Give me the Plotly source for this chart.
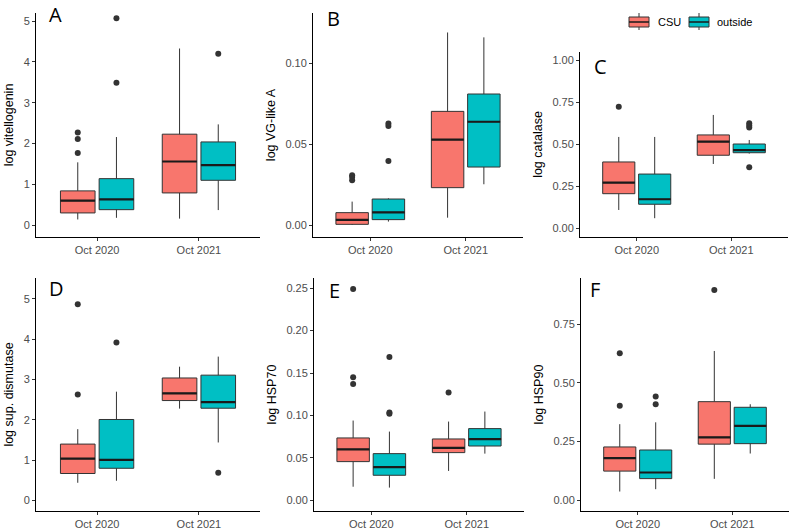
import plotly.graph_objs as go

# x categories
groups = ["Oct 2020", "Oct 2021"]
series = ["CSU", "outside"]

# box stats per year: [lower whisker, q1, median, q3, upper whisker]
vtg_csu = [[0.14, 0.30, 0.60, 0.84, 1.54], [0.16, 0.79, 1.56, 2.23, 4.33]]
vtg_out = [[0.18, 0.38, 0.63, 1.14, 2.16], [0.37, 1.10, 1.47, 2.04, 2.47]]
vtg_csu_outl = [[1.77, 2.11, 2.27], []]
vtg_out_outl = [[3.49, 5.07], [4.20]]

vgl_csu = [[0.0004, 0.0008, 0.0035, 0.0080, 0.0148], [0.0049, 0.0234, 0.0530, 0.0704, 0.1190]]
vgl_out = [[0.0025, 0.0037, 0.0082, 0.0164, 0.0168], [0.0255, 0.0361, 0.0640, 0.0811, 0.1160]]
vgl_csu_outl = [[0.028, 0.030, 0.031], []]
vgl_out_outl = [[0.0398, 0.0614, 0.0630], []]

cat_csu = [[0.109, 0.206, 0.272, 0.395, 0.544], [0.383, 0.435, 0.516, 0.556, 0.675]]
cat_out = [[0.060, 0.143, 0.173, 0.323, 0.544], [0.445, 0.450, 0.466, 0.502, 0.526]]
cat_csu_outl = [[0.724], []]
cat_out_outl = [[], [0.363, 0.600, 0.612, 0.625]]

sod_csu = [[0.44, 0.67, 1.04, 1.40, 1.77], [2.28, 2.48, 2.66, 3.04, 3.32]]
sod_out = [[0.49, 0.80, 1.01, 2.01, 2.70], [1.44, 2.29, 2.44, 3.11, 3.57]]
sod_csu_outl = [[2.63, 4.87], []]
sod_out_outl = [[3.92], [0.69]]

hsp70_csu = [[0.016, 0.0456, 0.060, 0.0735, 0.094], [0.0346, 0.0562, 0.0617, 0.0723, 0.0928]]
hsp70_out = [[0.015, 0.0295, 0.039, 0.055, 0.081], [0.055, 0.064, 0.072, 0.0845, 0.1046]]
hsp70_csu_outl = [[0.137, 0.145, 0.249], [0.127]]
hsp70_out_outl = [[0.102, 0.1035, 0.169], []]

hsp90_csu = [[0.037, 0.124, 0.179, 0.227, 0.324], [0.091, 0.239, 0.268, 0.420, 0.636]]
hsp90_out = [[0.047, 0.092, 0.118, 0.214, 0.332], [0.199, 0.241, 0.317, 0.396, 0.409]]
hsp90_csu_outl = [[0.403, 0.626], [0.896]]
hsp90_out_outl = [[0.409, 0.442], []]

int_ticks = [0, 1, 2, 3, 4, 5]
panels = [
    ("A", "log vitellogenin", vtg_csu, vtg_out, vtg_csu_outl, vtg_out_outl, int_ticks, "%.0f"),
    ("B", "log VG-like A", vgl_csu, vgl_out, vgl_csu_outl, vgl_out_outl, [0, 0.05, 0.10], "%.2f"),
    ("C", "log catalase", cat_csu, cat_out, cat_csu_outl, cat_out_outl, [0, 0.25, 0.5, 0.75, 1.0], "%.2f"),
    ("D", "log sup. dismutase", sod_csu, sod_out, sod_csu_outl, sod_out_outl, int_ticks, "%.0f"),
    ("E", "log HSP70", hsp70_csu, hsp70_out, hsp70_csu_outl, hsp70_out_outl, [0, 0.05, 0.10, 0.15, 0.20, 0.25], "%.2f"),
    ("F", "log HSP90", hsp90_csu, hsp90_out, hsp90_csu_outl, hsp90_out_outl, [0, 0.25, 0.5, 0.75], "%.2f"),
]

W, H = 793, 531
# pixel boxes of each plot area: left, right, top, bottom
areas = [(36, 260, 13, 237), (313, 523, 13, 237), (580, 788, 52, 237),
         (36, 260, 278, 511), (314, 524, 278, 511), (581, 789, 278, 511)]
yranges = [[-0.29, 5.2], [-0.007, 0.131], [-0.052, 1.05],
           [-0.26, 5.52], [-0.0126, 0.262], [-0.046, 0.947]]
letter_pos = [(55, 15), (333, 18), (600, 67), (56, 288), (334, 290), (595, 289)]


def px(x):
    return x / W


def py(y):
    return 1 - y / H


colors = {"CSU": "#F8766D", "outside": "#00BFC4"}
offset = 0.19
bw = 0.34
xpos = [1, 2]

fig = go.Figure()
layout = dict(width=W, height=H, margin=dict(l=0, r=0, t=0, b=0),
              plot_bgcolor="white", paper_bgcolor="white",
              font=dict(family="Liberation Sans, Arial", color="#4d4d4d"),
              boxmode="overlay", showlegend=False, annotations=[], shapes=[])

for i, (letter, ytitle, csu, out, csu_o, out_o, tv, fmt) in enumerate(panels):
    n = i + 1
    xa = "x" if n == 1 else "x%d" % n
    ya = "y" if n == 1 else "y%d" % n
    for name, stats, outl, sign in [("CSU", csu, csu_o, -1), ("outside", out, out_o, 1)]:
        centers = [p + sign * offset for p in xpos]
        fig.add_trace(go.Box(
            x=centers,
            lowerfence=[s[0] for s in stats],
            q1=[s[1] for s in stats],
            median=[s[2] for s in stats],
            q3=[s[3] for s in stats],
            upperfence=[s[4] for s in stats],
            width=bw, whiskerwidth=0,
            fillcolor=colors[name],
            line=dict(color="#333333", width=1),
            name=name, xaxis=xa, yaxis=ya, hoverinfo="skip"))
        # thicker median line like ggplot
        mx, my = [], []
        for c, s in zip(centers, stats):
            mx += [c - bw / 2, c + bw / 2, None]
            my += [s[2], s[2], None]
        fig.add_trace(go.Scatter(x=mx, y=my, mode="lines",
                                 line=dict(color="#1a1a1a", width=2.2),
                                 xaxis=xa, yaxis=ya, hoverinfo="skip"))
        ox, oy = [], []
        for c, o in zip(centers, outl):
            ox += [c] * len(o)
            oy += o
        fig.add_trace(go.Scatter(x=ox, y=oy, mode="markers",
                                 marker=dict(color="#333333", size=6),
                                 xaxis=xa, yaxis=ya, hoverinfo="skip"))

    l, r, t, b = areas[i]
    axkey = "xaxis" if n == 1 else "xaxis%d" % n
    aykey = "yaxis" if n == 1 else "yaxis%d" % n
    layout[axkey] = dict(domain=[px(l), min(px(r), 1)], anchor=ya, range=[0.4, 2.6],
                         tickvals=xpos, ticktext=groups, showline=True,
                         linecolor="black", linewidth=1, ticks="outside",
                         ticklen=3, tickcolor="#333333", showgrid=False,
                         zeroline=False, tickfont=dict(size=11, color="#4d4d4d"),
                         fixedrange=True)
    layout[aykey] = dict(domain=[py(b), py(t)], anchor=xa, range=yranges[i],
                         tickvals=tv, ticktext=[fmt % v for v in tv], showline=True,
                         linecolor="black", linewidth=1, ticks="outside",
                         ticklen=3, tickcolor="#333333", showgrid=False,
                         zeroline=False, tickfont=dict(size=11, color="#4d4d4d"),
                         title=dict(text=ytitle, font=dict(size=12.5, color="black"), standoff=7),
                         fixedrange=True)
    lx, ly = letter_pos[i]
    layout["annotations"].append(dict(text=letter, x=px(lx), y=py(ly),
                                      xref="paper", yref="paper", showarrow=False,
                                      xanchor="center", yanchor="middle",
                                      font=dict(size=20, color="black", family="Open Sans")))

# legend keys drawn as small boxes like ggplot's
key_left = [629, 689]
text_left = [656, 715]
for name, kl, tl in zip(series, key_left, text_left):
    kc = kl + 10
    layout["shapes"] += [
        dict(type="line", xref="paper", yref="paper", x0=px(kc), x1=px(kc),
             y0=py(13), y1=py(30), line=dict(color="#333333", width=1)),
        dict(type="rect", xref="paper", yref="paper", x0=px(kl), x1=px(kl + 20),
             y0=py(17), y1=py(27), fillcolor=colors[name],
             line=dict(color="#333333", width=1)),
        dict(type="line", xref="paper", yref="paper", x0=px(kl), x1=px(kl + 20),
             y0=py(22), y1=py(22), line=dict(color="#1a1a1a", width=1.5)),
    ]
    layout["annotations"].append(dict(text=name, x=px(tl), y=py(22), xref="paper", yref="paper",
                                      showarrow=False, xanchor="left", yanchor="middle",
                                      font=dict(size=11, color="black")))

fig.update_layout(**layout)

# drop the page's default body margin so the figure fills the window
fig.write_html("out.html", config={"displayModeBar": False},
               post_script="document.body.style.margin='0';")
